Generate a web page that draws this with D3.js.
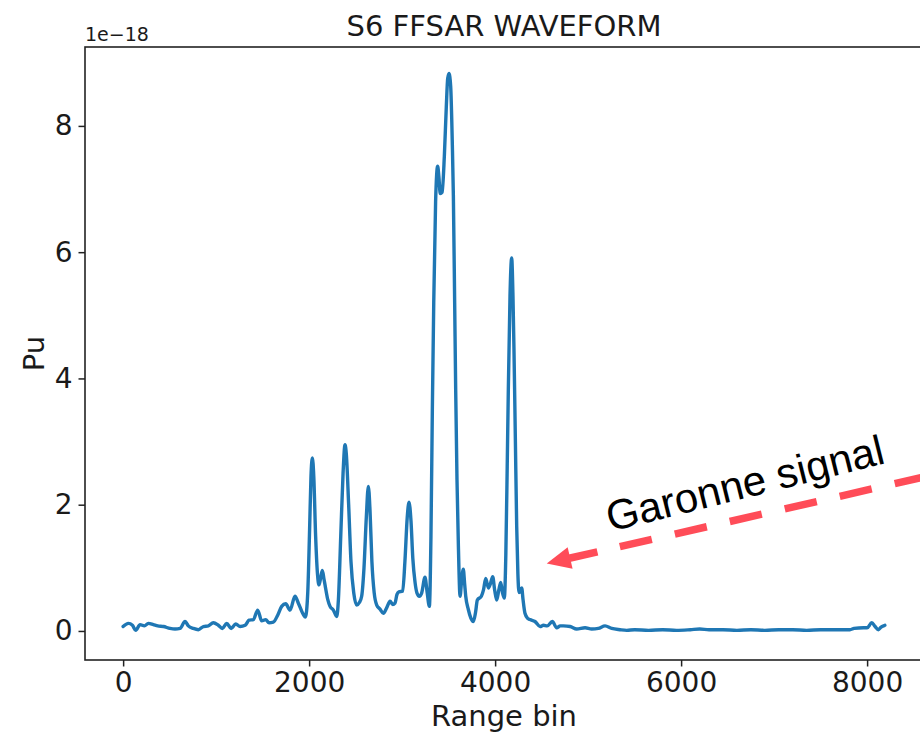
<!DOCTYPE html>
<html>
<head>
<meta charset="utf-8">
<script src="https://cdn.jsdelivr.net/npm/d3@7"></script>
<style>
  html, body { margin: 0; padding: 0; background: #fff; }
  svg { display: block; }
</style>
</head>
<body>
<svg id="chart" width="920" height="734"></svg>
<script>
// ---- data ----
const rangeBins = [
  0, 56, 100, 135, 182, 229, 271, 325, 372, 434, 504, 558, 612, 666, 701, 755, 809, 863, 917, 970,
  1024, 1067, 1114, 1161, 1211, 1258, 1312, 1354, 1401, 1447, 1490, 1533, 1569, 1615, 1662, 1705, 1748, 1795, 1848, 1884,
  1938, 1960, 1985, 2005, 2020, 2035, 2050, 2070, 2090, 2106, 2125, 2142, 2160, 2171, 2200, 2225, 2261, 2297, 2315, 2340,
  2365, 2386, 2400, 2425, 2450, 2480, 2511, 2540, 2565, 2590, 2615, 2637, 2655, 2675, 2700, 2727, 2760, 2798, 2835, 2870,
  2900, 2923, 2945, 2965, 3006, 3030, 3055, 3074, 3095, 3115, 3139, 3160, 3185, 3210, 3246, 3270, 3293, 3310, 3325, 3340,
  3360, 3382, 3395, 3410, 3430, 3454, 3475, 3490, 3504, 3522, 3540, 3551, 3565, 3576, 3590, 3605, 3623, 3640, 3658, 3672,
  3684, 3712, 3740, 3766, 3790, 3809, 3852, 3875, 3899, 3928, 3950, 3974, 3995, 4017, 4040, 4060, 4080, 4099, 4115, 4130,
  4142, 4160, 4178, 4192, 4203, 4218, 4232, 4245, 4257, 4270, 4286, 4300, 4321, 4350, 4375, 4429, 4483, 4520, 4560, 4615,
  4662, 4700, 4734, 4806, 4877, 4967, 5039, 5110, 5182, 5254, 5343, 5415, 5500, 5650, 5800, 5950, 6100, 6200, 6300, 6450,
  6600, 6750, 6900, 7050, 7200, 7350, 7500, 7650, 7816, 7860, 7961, 8000, 8050, 8086, 8121, 8150, 8191
];
const powerE18 = [
  0.07, 0.12, 0.09, 0.01, 0.10, 0.08, 0.12, 0.10, 0.08, 0.07, 0.04, 0.03, 0.04, 0.15, 0.08, 0.04, 0.02, 0.07, 0.08, 0.13,
  0.09, 0.04, 0.12, 0.04, 0.11, 0.07, 0.09, 0.17, 0.18, 0.33, 0.16, 0.18, 0.13, 0.14, 0.25, 0.39, 0.43, 0.33, 0.55, 0.44,
  0.26, 0.22, 0.60, 1.60, 2.45, 2.74, 2.45, 1.50, 0.90, 0.73, 0.85, 0.96, 0.82, 0.73, 0.50, 0.39, 0.33, 0.23, 0.50, 1.50,
  2.50, 2.95, 2.80, 2.00, 1.10, 0.60, 0.41, 0.45, 0.55, 1.00, 1.80, 2.29, 1.90, 1.10, 0.60, 0.41, 0.35, 0.28, 0.37, 0.47,
  0.42, 0.44, 0.58, 0.62, 0.63, 1.10, 1.80, 2.04, 1.75, 1.15, 0.77, 0.60, 0.55, 0.60, 0.85, 0.60, 0.39, 1.50, 3.50, 5.20,
  6.80, 7.36, 7.20, 6.93, 6.95, 7.52, 8.30, 8.75, 8.83, 8.63, 7.70, 6.90, 5.20, 3.82, 2.40, 1.35, 0.55, 0.80, 0.98, 0.75,
  0.55, 0.34, 0.20, 0.15, 0.30, 0.49, 0.55, 0.65, 0.83, 0.68, 0.75, 0.86, 0.65, 0.49, 0.65, 0.77, 0.60, 0.52, 1.20, 2.60,
  3.82, 5.30, 5.91, 5.30, 4.44, 3.00, 1.66, 0.90, 0.61, 0.62, 0.68, 0.50, 0.28, 0.20, 0.18, 0.15, 0.07, 0.09, 0.08, 0.15,
  0.05, 0.08, 0.08, 0.07, 0.03, 0.05, 0.03, 0.04, 0.08, 0.04, 0.02, 0.01, 0.02, 0.01, 0.02, 0.01, 0.02, 0.03, 0.02, 0.02,
  0.01, 0.02, 0.01, 0.02, 0.02, 0.01, 0.02, 0.02, 0.02, 0.04, 0.05, 0.05, 0.13, 0.07, 0.02, 0.06, 0.09
];
const xTicks = [0, 2000, 4000, 6000, 8000];
const yTicks = [0, 2, 4, 6, 8];
const titleText = "S6 FFSAR WAVEFORM";
const xLabel = "Range bin";
const yLabel = "Pu";
const offsetText = "1e\u221218";
const annotationText = "Garonne signal";
// annotation anchors in data units
const arrowTip = [4555, 1.07];
const arrowTail = [9000, 2.57];
const textAnchor = [5237, 1.57];

// ---- layout ----
const svg = d3.select("#chart");
const W = 920, H = 734;
const L = 85, R = 923, T = 47, B = 660;
svg.append("rect").attr("width", W).attr("height", H).attr("fill", "#fff");

const xDom = [-410, 8601];
const yDom = [-0.46, 9.25];
const x = d3.scaleLinear().domain(xDom).range([L, R]);
const y = d3.scaleLinear().domain(yDom).range([B, T]);

const FONT = "'DejaVu Sans', Verdana, sans-serif";

// line
const pts = rangeBins.map((b, i) => [b, powerE18[i]]);
const line = d3.line().x(d => x(d[0])).y(d => y(d[1])).curve(d3.curveMonotoneX);
svg.append("path")
  .attr("d", line(pts))
  .attr("fill", "none")
  .attr("stroke", "#1f77b4")
  .attr("stroke-width", 3.4)
  .attr("stroke-linejoin", "round")
  .attr("stroke-linecap", "round");

// axes
const xAxis = d3.axisBottom(x).tickValues(xTicks).tickSize(6.5).tickSizeOuter(0).tickPadding(6).tickFormat(d3.format("d"));
const yAxis = d3.axisLeft(y).tickValues(yTicks).tickSize(6.5).tickSizeOuter(0).tickPadding(6).tickFormat(d3.format("d"));

const gx = svg.append("g").attr("transform", `translate(0,${B})`).call(xAxis);
const gy = svg.append("g").attr("transform", `translate(${L},0)`).call(yAxis);
[gx, gy].forEach(g => {
  g.select(".domain").remove();
  g.selectAll(".tick line").attr("stroke", "#222").attr("stroke-width", 1.5);
  g.selectAll(".tick text").attr("fill", "#1a1a1a").style("font-family", FONT).style("font-size", "28px");
});

// frame (spines)
svg.append("rect")
  .attr("x", L).attr("y", T).attr("width", R - L).attr("height", B - T)
  .attr("fill", "none").attr("stroke", "#222").attr("stroke-width", 1.6);

// offset text
svg.append("text").attr("x", L).attr("y", 41)
  .style("font-family", FONT).style("font-size", "19px").attr("fill", "#1a1a1a")
  .text(offsetText);

// title
svg.append("text").attr("x", (L + R) / 2).attr("y", 36).attr("text-anchor", "middle")
  .style("font-family", FONT).style("font-size", "29px").attr("fill", "#1a1a1a")
  .text(titleText);

// axis labels
svg.append("text").attr("x", (L + R) / 2).attr("y", 726).attr("text-anchor", "middle")
  .style("font-family", FONT).style("font-size", "29px").attr("fill", "#1a1a1a")
  .text(xLabel);
svg.append("text").attr("transform", `translate(44,${(T + B) / 2}) rotate(-90)`).attr("text-anchor", "middle")
  .style("font-family", FONT).style("font-size", "29px").attr("fill", "#1a1a1a")
  .text(yLabel);

// annotation arrow
const RED = "#ff4c58";
const tip = [x(arrowTip[0]), y(arrowTip[1])];
const tail = [x(arrowTail[0]), y(arrowTail[1])];
const dx = tail[0] - tip[0], dy = tail[1] - tip[1];
const len = Math.hypot(dx, dy);
const u = [dx / len, dy / len];
const p = [-u[1], u[0]];
const at = s => [tip[0] + u[0] * s, tip[1] + u[1] * s];
const headLen = 24, headHalf = 11;
const base = at(headLen);
const ann = svg.append("g");
ann.append("path")
  .attr("d", `M${tip[0]},${tip[1]}L${base[0] + p[0] * headHalf},${base[1] + p[1] * headHalf}L${base[0] - p[0] * headHalf},${base[1] - p[1] * headHalf}Z`)
  .attr("fill", RED);
const s1 = at(headLen - 2), s2 = at(52);
ann.append("line").attr("x1", s1[0]).attr("y1", s1[1]).attr("x2", s2[0]).attr("y2", s2[1])
  .attr("stroke", RED).attr("stroke-width", 7.5);
const d1 = at(75);
ann.append("line").attr("x1", d1[0]).attr("y1", d1[1]).attr("x2", tail[0]).attr("y2", tail[1])
  .attr("stroke", RED).attr("stroke-width", 7.5).attr("stroke-dasharray", "32.8 23.6");

// annotation text
svg.append("text")
  .attr("transform", `translate(${x(textAnchor[0])},${y(textAnchor[1])}) rotate(-14)`)
  .style("font-family", "'Liberation Sans', Arial, sans-serif").style("font-size", "42px").attr("fill", "#000")
  .text(annotationText);
</script>
</body>
</html>
